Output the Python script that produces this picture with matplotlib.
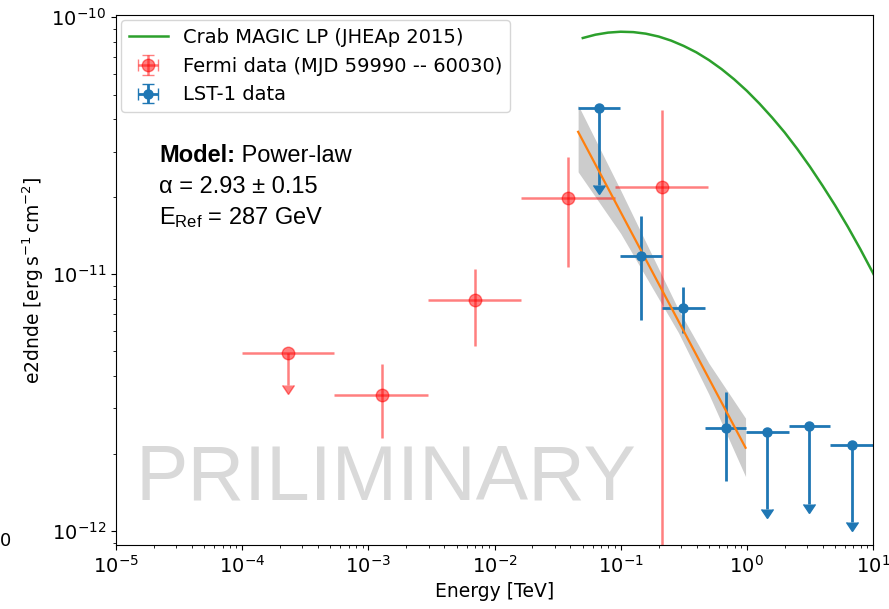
import numpy as np
import matplotlib
matplotlib.use("Agg")
import matplotlib.pyplot as plt

plt.rcParams['mathtext.rm'] = 'Liberation Sans'
plt.rcParams['mathtext.bf'] = 'Liberation Sans:bold'

## Crab MAGIC log-parabola (JHEAp 2015)
crab_e = [0.0501, 0.0631, 0.0794, 0.1, 0.126, 0.158, 0.2, 0.251, 0.316, 0.398,
          0.501, 0.631, 0.794, 1.0, 1.259, 1.585, 1.995, 2.512, 3.162, 3.981,
          5.012, 6.310, 7.943, 10.0, 12.59]
crab_f = [8.30e-11, 8.55e-11, 8.71e-11, 8.78e-11, 8.75e-11, 8.63e-11, 8.41e-11,
          8.11e-11, 7.73e-11, 7.30e-11, 6.81e-11, 6.28e-11, 5.73e-11, 5.17e-11,
          4.61e-11, 4.07e-11, 3.56e-11, 3.07e-11, 2.62e-11, 2.21e-11, 1.85e-11,
          1.53e-11, 1.25e-11, 1.01e-11, 8.05e-12]

## Fermi flux points (TeV, erg cm-2 s-1)
fermi_e = [2.31e-4, 1.28e-3, 7.0e-3, 3.82e-2, 0.211]
fermi_elo = [1.0e-4, 5.33e-4, 2.96e-3, 1.62e-2, 0.09]
fermi_ehi = [5.33e-4, 2.96e-3, 1.62e-2, 0.09, 0.49]
fermi_f = [4.93e-12, 3.38e-12, 7.93e-12, 1.98e-11, 2.18e-11]
fermi_fhi = [4.93e-12, 4.47e-12, 1.05e-11, 2.85e-11, 4.35e-11]
fermi_flo = [3.70e-12, 2.30e-12, 5.25e-12, 1.07e-11, 1.0e-13]
fermi_ul = [True, False, False, False, False]

## LST-1 flux points
lst_e = [0.0676, 0.1445, 0.313, 0.678, 1.45, 3.12, 6.76]
lst_elo = [0.0458, 0.0986, 0.213, 0.462, 0.986, 2.14, 4.55]
lst_ehi = [0.0986, 0.213, 0.462, 0.986, 2.14, 4.55, 14.5]
lst_f = [4.44e-11, 1.18e-11, 7.36e-12, 2.52e-12, 2.43e-12, 2.56e-12, 2.16e-12]
lst_fhi = [4.44e-11, 1.68e-11, 8.9e-12, 3.48e-12, 2.43e-12, 2.56e-12, 2.16e-12]
lst_flo = [2.22e-11, 6.62e-12, 5.89e-12, 1.56e-12, 1.215e-12, 1.28e-12, 1.08e-12]
lst_ul = [True, False, False, False, True, True, True]

## power-law fit + butterfly
pl_e = [0.046, 0.977]
pl_f = [3.58e-11, 2.11e-12]
band_e = [0.046, 0.1, 0.287, 0.5, 0.977]
band_hi = [4.55e-11, 2.12e-11, 7.28e-12, 4.50e-12, 2.75e-12]
band_lo = [2.50e-11, 1.44e-11, 5.92e-12, 3.41e-12, 1.63e-12]


def yerrs(f, lo, hi, ul):
    f = np.array(f); lo = np.array(lo); hi = np.array(hi); ul = np.array(ul)
    down = f - lo
    up = np.where(ul, 0.0, hi - f)
    return np.vstack([down, up])


def xerrs(e, lo, hi):
    e = np.array(e)
    return np.vstack([e - np.array(lo), np.array(hi) - e])


fig = plt.figure(figsize=(8.89, 6.09), dpi=100)
ax = fig.add_axes([0.1305, 0.105, 0.8515, 0.870])

ax.plot(crab_e, crab_f, color='C2', lw=1.8, label='Crab MAGIC LP (JHEAp 2015)')

eb1 = ax.errorbar(fermi_e, fermi_f, xerr=xerrs(fermi_e, fermi_elo, fermi_ehi),
                  yerr=yerrs(fermi_f, fermi_flo, fermi_fhi, fermi_ul), uplims=fermi_ul,
                  fmt='o', color='red', alpha=0.5, ms=9, lw=1.8, capsize=0,
                  label='Fermi data (MJD 59990 -- 60030)')
eb2 = ax.errorbar(lst_e, lst_f, xerr=xerrs(lst_e, lst_elo, lst_ehi),
                  yerr=yerrs(lst_f, lst_flo, lst_fhi, lst_ul), uplims=lst_ul,
                  fmt='o', color='C0', ms=6.5, lw=2.0, capsize=0,
                  label='LST-1 data')
for cl in eb1[1]:
    cl.set_markersize(9)
for cl in eb2[1]:
    cl.set_markersize(9)

ax.fill_between(band_e, band_lo, band_hi, color='0.8', lw=0, zorder=1)
ax.plot(pl_e, pl_f, color='C1', lw=1.6, zorder=2)

ax.set_xscale('log')
ax.set_yscale('log')
ax.set_xlim(1e-5, 1e1)
ax.set_ylim(8.82e-13, 1.018e-10)
ax.tick_params(labelsize=14)
ax.set_xlabel('Energy [TeV]', fontsize=13.5)
ax.set_ylabel('e2dnde [$\\mathrm{erg\\,s^{-1}\\,cm^{-2}}$]', fontsize=13.5)

ax.legend(loc='upper left', fontsize=14, borderaxespad=0.25)

# model annotation
t1 = ax.text(0.0568, 0.7226, 'Model:', transform=ax.transAxes, fontsize=17,
             family='Liberation Sans', weight='bold', va='baseline')
ax.annotate(' Power-law', xy=(1, 0), xycoords=t1, fontsize=17,
            family='Liberation Sans', va='bottom')
ax.text(0.0568, 0.664, '\u03b1 = 2.93 \u00b1 0.15', transform=ax.transAxes,
        fontsize=17, family='Liberation Sans', va='baseline')
ax.text(0.0568, 0.6057, '$\\mathrm{E_{Ref}}$ = 287 GeV', transform=ax.transAxes,
        fontsize=17, family='Liberation Sans', math_fontfamily='custom', va='baseline')

ax.text(0.357, 0.125, 'PRILIMINARY', transform=ax.transAxes, fontsize=56.5,
        family='Liberation Sans', color='#d9d9d9', ha='center', va='center', zorder=0)

fig.text(0.0, 0.103, '0', fontsize=13)

fig.savefig('out.png')
